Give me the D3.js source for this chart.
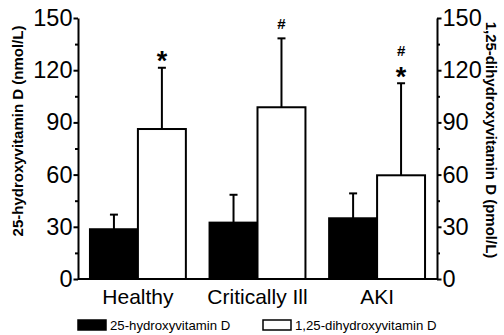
<!DOCTYPE html>
<html><head><meta charset="utf-8">
<script src="https://cdn.jsdelivr.net/npm/d3@7"></script>
<style>body{margin:0;background:#fff}svg{display:block;font-family:"Liberation Sans",Arial,sans-serif}</style>
</head><body>
<svg id="c" width="504" height="335"></svg>
<script>
const categories = ["Healthy", "Critically Ill", "AKI"];
const seriesNames = ["25-hydroxyvitamin D", "1,25-dihydroxyvitamin D"];
const hydroxy = [28.6, 32.4, 34.9];
const hydroxyErr = [8.4, 16.0, 14.3];
const dihydroxy = [86.2, 98.7, 59.6];
const dihydroxyErr = [35.2, 39.6, 52.9];
const marks = [["*"], ["#"], ["#", "*"]];
const yTicks = [0, 30, 60, 90, 120, 150];
const yMinor = [15, 45, 75, 105, 135];

const svg = d3.select("#c");
const L = 78, R = 437, T = 18, B = 279;
const x = d3.scaleBand().domain(categories).range([L, R]).paddingInner(0.198).paddingOuter(0.1);
const xs = d3.scaleBand().domain([0, 1]).range([0, x.bandwidth()]);
const y = d3.scaleLinear().domain([0, 150]).range([B, T]);

const data = categories.map((c, i) => ({c, vals: [
  {s: 0, v: hydroxy[i], e: hydroxyErr[i]},
  {s: 1, v: dihydroxy[i], e: dihydroxyErr[i]}]}));

const g = svg.append("g");
data.forEach((d, i) => {
  d.vals.forEach(b => {
    const bx = x(d.c) + xs(b.s), bw = xs.bandwidth(), cx = bx + bw / 2;
    g.append("line").attr("x1", cx).attr("x2", cx).attr("y1", y(b.v)).attr("y2", y(b.v + b.e))
      .attr("stroke", "#000").attr("stroke-width", 2);
    g.append("line").attr("x1", cx - 4).attr("x2", cx + 4).attr("y1", y(b.v + b.e)).attr("y2", y(b.v + b.e))
      .attr("stroke", "#000").attr("stroke-width", 2);
    g.append("rect").attr("x", bx).attr("y", y(b.v)).attr("width", bw).attr("height", B - y(b.v))
      .attr("fill", b.s ? "#fff" : "#000").attr("stroke", "#000").attr("stroke-width", 2);
  });
  const b = d.vals[1];
  const cx = x(d.c) + xs(1) + xs.bandwidth() / 2;
  const capY = y(b.v + b.e);
  const ms = marks[i];
  ms.forEach((m, k) => {
    const fromTop = ms.length - 1 - k;
    let base;
    if (m === "*") base = capY + 2.5;
    else base = capY - 9 - (fromTop > 0 ? 18 : 0);
    g.append("text").attr("x", cx).attr("y", base)
      .attr("text-anchor", "middle").attr("font-weight", "bold")
      .attr("font-size", m === "*" ? 27 : 15).text(m);
  });
});

// axes
const axL = svg.append("g").attr("transform", `translate(${L},0)`);
axL.call(d3.axisLeft(y).tickValues(yTicks).tickSize(4.5).tickSizeOuter(0).tickPadding(1));
axL.append("g").call(d3.axisLeft(y).tickValues(yMinor).tickSize(3).tickFormat(""));
const axR = svg.append("g").attr("transform", `translate(${R},0)`);
axR.call(d3.axisRight(y).tickValues(yTicks).tickSize(4.5).tickSizeOuter(0).tickPadding(1));
axR.append("g").call(d3.axisRight(y).tickValues(yMinor).tickSize(3).tickFormat(""));
svg.selectAll(".domain").attr("stroke-width", 2);
svg.selectAll(".tick line").attr("stroke-width", 2);
svg.selectAll(".tick text").attr("font-size", 23.5).attr("font-family", "Liberation Sans, Arial, sans-serif").attr("fill", "#000");
svg.selectAll("g g .domain").remove();
svg.append("line").attr("x1", L).attr("x2", R).attr("y1", B).attr("y2", B).attr("stroke", "#000").attr("stroke-width", 2);

// x labels
categories.forEach(c => {
  svg.append("text").attr("x", x(c) + x.bandwidth() / 2).attr("y", 304)
    .attr("text-anchor", "middle").attr("font-size", 21).text(c);
});

// axis titles
svg.append("text").attr("transform", "translate(23,131) rotate(-90)").attr("text-anchor", "middle")
  .attr("font-weight", "bold").attr("font-size", 15).text("25-hydroxyvitamin D (nmol/L)");
svg.append("text").attr("transform", "translate(486,140) rotate(90)").attr("text-anchor", "middle")
  .attr("font-weight", "bold").attr("font-size", 15).text("1,25-dihydroxyvitamin D (pmol/L)");

// legend
const leg = [{x: 78, fill: "#000"}, {x: 263, fill: "#fff"}];
leg.forEach((l, i) => {
  svg.append("rect").attr("x", l.x).attr("y", 320).attr("width", 28).attr("height", 10)
    .attr("fill", l.fill).attr("stroke", "#000").attr("stroke-width", 1.5);
  svg.append("text").attr("x", l.x + 32).attr("y", 330).attr("font-size", 13.2).text(seriesNames[i]);
});
</script>
</body></html>
